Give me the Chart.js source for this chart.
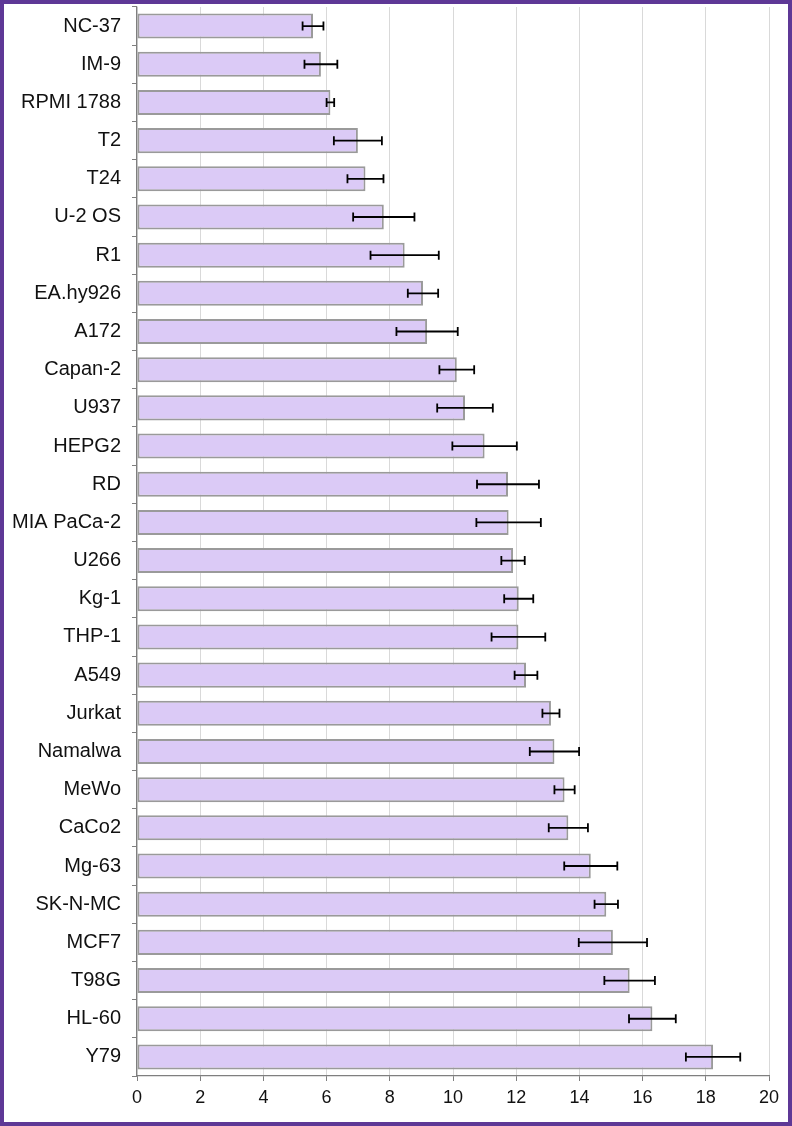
<!DOCTYPE html>
<html>
<head>
<meta charset="utf-8">
<script src="https://cdn.jsdelivr.net/npm/chart.js@4/dist/chart.umd.min.js"></script>
<style>
  html, body { margin: 0; padding: 0; background: #fff; }
  #frame {
    width: 792px;
    height: 1126px;
    box-sizing: border-box;
    border: 4px solid #5e3896;
    background: #fff;
  }
  canvas { display: block; }
</style>
</head>
<body>
<div id="frame">
  <canvas id="chart" width="784" height="1118"></canvas>
</div>
<script>
// Cell lines (top to bottom)
const cellLines = [
  "NC-37", "IM-9", "RPMI 1788", "T2", "T24", "U-2 OS", "R1", "EA.hy926",
  "A172", "Capan-2", "U937", "HEPG2", "RD", "MIA PaCa-2", "U266", "Kg-1",
  "THP-1", "A549", "Jurkat", "Namalwa", "MeWo", "CaCo2", "Mg-63",
  "SK-N-MC", "MCF7", "T98G", "HL-60", "Y79"
];

// Bar values
const meanValues = [
  5.57, 5.82, 6.12, 6.99, 7.23, 7.81, 8.47, 9.05,
  9.18, 10.12, 10.38, 11.0, 11.74, 11.76, 11.9, 12.08,
  12.07, 12.31, 13.1, 13.21, 13.53, 13.65, 14.36,
  14.85, 15.06, 15.59, 16.31, 18.23
];

// Error bar half-widths
const errValues = [
  0.33, 0.52, 0.12, 0.76, 0.57, 0.97, 1.08, 0.48,
  0.97, 0.55, 0.88, 1.02, 0.98, 1.02, 0.37, 0.46,
  0.85, 0.36, 0.27, 0.78, 0.32, 0.62, 0.84,
  0.37, 1.08, 0.8, 0.74, 0.86
];

// X axis ticks
const xTicks = [0, 2, 4, 6, 8, 10, 12, 14, 16, 18, 20];

// Plugin ve thanh sai so
const errorBarPlugin = {
  id: "errorBars",
  afterDatasetsDraw(chart) {
    const ctx = chart.ctx;
    const xScale = chart.scales.x;
    const meta = chart.getDatasetMeta(0);
    ctx.save();
    ctx.strokeStyle = "#000";
    ctx.lineWidth = 1.8;
    meta.data.forEach((bar, i) => {
      const y = bar.y;
      const x1 = xScale.getPixelForValue(meanValues[i] - errValues[i]);
      const x2 = xScale.getPixelForValue(meanValues[i] + errValues[i]);
      ctx.beginPath();
      ctx.moveTo(x1, y);
      ctx.lineTo(x2, y);
      ctx.moveTo(x1, y - 4.5);
      ctx.lineTo(x1, y + 4.5);
      ctx.moveTo(x2, y - 4.5);
      ctx.lineTo(x2, y + 4.5);
      ctx.stroke();
    });
    ctx.restore();
  }
};

const ctx = document.getElementById("chart").getContext("2d");

new Chart(ctx, {
  type: "bar",
  data: {
    labels: cellLines,
    datasets: [
      {
        data: meanValues,
        backgroundColor: "#dbcaf6",
        borderColor: "#9a9a9a",
        borderWidth: 2,
        borderSkipped: false,
        barPercentage: 0.655,
        categoryPercentage: 1.0
      }
    ]
  },
  options: {
    indexAxis: "y",
    responsive: false,
    animation: false,
    layout: {
      padding: { top: 3, right: 19, bottom: 0, left: 0 }
    },
    plugins: {
      legend: { display: false },
      tooltip: { enabled: false }
    },
    scales: {
      x: {
        type: "linear",
        min: 0,
        max: 20,
        afterBuildTicks(scale) {
          scale.ticks = xTicks.map((v) => ({ value: v }));
        },
        afterFit(scale) {
          scale.height = 46;
          scale.paddingLeft = 0;
          scale.paddingRight = 0;
        },
        ticks: {
          color: "#111",
          padding: 6,
          font: { family: "Liberation Sans, Arial, sans-serif", size: 18 }
        },
        grid: {
          color: "#d9d9d9",
          lineWidth: 1,
          tickColor: "#7f7f7f",
          tickLength: 5
        },
        border: { color: "#7f7f7f", width: 1.2 }
      },
      y: {
        afterFit(scale) {
          scale.width = 133;
          scale.paddingTop = 0;
          scale.paddingBottom = 0;
        },
        ticks: {
          color: "#111",
          padding: 11,
          font: { family: "Liberation Sans, Arial, sans-serif", size: 20 }
        },
        grid: {
          offset: true,
          drawOnChartArea: false,
          tickColor: "#7f7f7f",
          tickLength: 5
        },
        border: { color: "#7f7f7f", width: 1.2 }
      }
    }
  },
  plugins: [errorBarPlugin]
});
</script>
</body>
</html>
